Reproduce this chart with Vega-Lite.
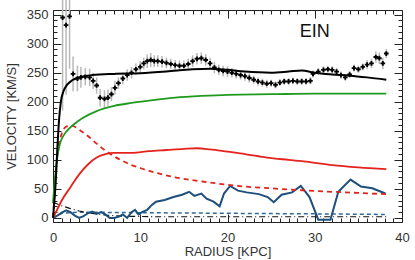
{
  "$schema": "https://vega.github.io/schema/vega-lite/v6.json",
  "width": 349,
  "height": 212,
  "autosize": {"type": "none"},
  "padding": {"left": 53, "top": 10, "right": 13, "bottom": 38},
  "background": "white",
  "config": {
    "view": {"stroke": "#222", "strokeWidth": 1},
    "font": "Liberation Sans",
    "axis": {"grid": false, "domain": false, "tickColor": "#222", "labelFont": "Liberation Sans", "labelFontSize": 13, "labelColor": "#333", "titleFont": "Liberation Sans", "titleFontSize": 13, "titleFontWeight": "normal", "titleColor": "#333"}
  },
  "datasets": {
    "obs": [
      {"r": 1.1, "v": 345, "err": 160}, {"r": 1.5, "v": 332, "err": 120}, {"r": 1.9, "v": 347, "err": 90},
      {"r": 2.3, "v": 248, "err": 30}, {"r": 2.8, "v": 240, "err": 22}, {"r": 3.2, "v": 242, "err": 18},
      {"r": 3.7, "v": 243, "err": 15}, {"r": 4.2, "v": 242, "err": 15}, {"r": 4.6, "v": 236, "err": 14},
      {"r": 5.0, "v": 228, "err": 14}, {"r": 5.4, "v": 207, "err": 15}, {"r": 5.9, "v": 205, "err": 15},
      {"r": 6.3, "v": 207, "err": 14}, {"r": 6.7, "v": 213, "err": 12}, {"r": 7.1, "v": 224, "err": 12},
      {"r": 7.5, "v": 232, "err": 10}, {"r": 8.0, "v": 240, "err": 10}, {"r": 8.5, "v": 246, "err": 10},
      {"r": 9.0, "v": 250, "err": 10}, {"r": 9.5, "v": 256, "err": 10}, {"r": 10.0, "v": 260, "err": 10},
      {"r": 10.4, "v": 266, "err": 10}, {"r": 10.8, "v": 270, "err": 12}, {"r": 11.2, "v": 272, "err": 12},
      {"r": 11.6, "v": 270, "err": 10}, {"r": 12.0, "v": 270, "err": 10}, {"r": 12.5, "v": 269, "err": 10},
      {"r": 13.0, "v": 267, "err": 9}, {"r": 13.5, "v": 265, "err": 9}, {"r": 14.0, "v": 263, "err": 9},
      {"r": 14.5, "v": 262, "err": 9}, {"r": 15.0, "v": 262, "err": 9}, {"r": 15.5, "v": 265, "err": 9},
      {"r": 16.0, "v": 270, "err": 10}, {"r": 16.5, "v": 274, "err": 10}, {"r": 17.0, "v": 275, "err": 10},
      {"r": 17.5, "v": 272, "err": 10}, {"r": 18.0, "v": 266, "err": 10}, {"r": 18.5, "v": 259, "err": 10},
      {"r": 19.0, "v": 255, "err": 9}, {"r": 19.5, "v": 253, "err": 9}, {"r": 20.0, "v": 252, "err": 9},
      {"r": 20.5, "v": 250, "err": 8}, {"r": 21.0, "v": 248, "err": 8}, {"r": 21.5, "v": 246, "err": 8},
      {"r": 22.0, "v": 244, "err": 8}, {"r": 22.5, "v": 241, "err": 8}, {"r": 23.0, "v": 238, "err": 7},
      {"r": 23.5, "v": 235, "err": 7}, {"r": 24.0, "v": 233, "err": 7}, {"r": 24.5, "v": 231, "err": 7},
      {"r": 25.0, "v": 232, "err": 6}, {"r": 25.5, "v": 229, "err": 6}, {"r": 26.0, "v": 233, "err": 6},
      {"r": 26.5, "v": 235, "err": 6}, {"r": 27.0, "v": 235, "err": 6}, {"r": 27.5, "v": 236, "err": 6},
      {"r": 28.0, "v": 235, "err": 6}, {"r": 28.5, "v": 235, "err": 6}, {"r": 29.0, "v": 235, "err": 6},
      {"r": 29.5, "v": 236, "err": 6}, {"r": 29.8, "v": 248, "err": 6}, {"r": 30.4, "v": 252, "err": 6},
      {"r": 31.0, "v": 255, "err": 6}, {"r": 31.5, "v": 256, "err": 6}, {"r": 32.0, "v": 255, "err": 6},
      {"r": 32.5, "v": 252, "err": 6}, {"r": 33.0, "v": 246, "err": 6}, {"r": 33.5, "v": 242, "err": 6},
      {"r": 34.0, "v": 247, "err": 6}, {"r": 34.5, "v": 258, "err": 6}, {"r": 35.0, "v": 256, "err": 6},
      {"r": 35.5, "v": 260, "err": 6}, {"r": 36.0, "v": 264, "err": 8}, {"r": 36.5, "v": 266, "err": 8},
      {"r": 37.0, "v": 277, "err": 10}, {"r": 37.4, "v": 275, "err": 10}, {"r": 37.8, "v": 266, "err": 10},
      {"r": 38.2, "v": 283, "err": 8}
    ],
    "total": [
      {"r": 0, "v": 0}, {"r": 0.3, "v": 60}, {"r": 0.5, "v": 120}, {"r": 0.7, "v": 170}, {"r": 0.9, "v": 200},
      {"r": 1.2, "v": 218}, {"r": 1.6, "v": 229}, {"r": 2.2, "v": 237}, {"r": 3, "v": 242}, {"r": 4.5, "v": 246},
      {"r": 7, "v": 248}, {"r": 10, "v": 249}, {"r": 13, "v": 252}, {"r": 16, "v": 256}, {"r": 18, "v": 257},
      {"r": 20, "v": 255}, {"r": 22, "v": 252}, {"r": 25, "v": 250}, {"r": 27, "v": 252}, {"r": 28.5, "v": 254},
      {"r": 30, "v": 250}, {"r": 32, "v": 247}, {"r": 34, "v": 245}, {"r": 36, "v": 242}, {"r": 38.2, "v": 238}
    ],
    "halo": [
      {"r": 0, "v": 25}, {"r": 0.2, "v": 65}, {"r": 0.45, "v": 100}, {"r": 0.8, "v": 128}, {"r": 1.4, "v": 146},
      {"r": 2.3, "v": 160}, {"r": 3.4, "v": 172}, {"r": 5, "v": 184}, {"r": 7, "v": 193}, {"r": 9, "v": 198},
      {"r": 11, "v": 202}, {"r": 14, "v": 207}, {"r": 17, "v": 210}, {"r": 20, "v": 212}, {"r": 25, "v": 213},
      {"r": 30, "v": 214}, {"r": 38.2, "v": 214}
    ],
    "disk": [
      {"r": 0, "v": 0}, {"r": 0.5, "v": 15}, {"r": 1, "v": 30}, {"r": 2, "v": 53}, {"r": 3, "v": 75},
      {"r": 4, "v": 92}, {"r": 5, "v": 104}, {"r": 6, "v": 110}, {"r": 7, "v": 112}, {"r": 9, "v": 112},
      {"r": 11, "v": 115}, {"r": 13, "v": 117}, {"r": 15, "v": 119}, {"r": 16.5, "v": 120}, {"r": 18, "v": 118},
      {"r": 20, "v": 114}, {"r": 22, "v": 110}, {"r": 24.5, "v": 104}, {"r": 27, "v": 100}, {"r": 29, "v": 97},
      {"r": 32, "v": 91}, {"r": 35, "v": 87}, {"r": 38.2, "v": 84}
    ],
    "bulge": [
      {"r": 0, "v": 0}, {"r": 0.3, "v": 70}, {"r": 0.6, "v": 120}, {"r": 1.0, "v": 145}, {"r": 1.5, "v": 157},
      {"r": 2.0, "v": 159}, {"r": 2.5, "v": 157}, {"r": 3, "v": 152}, {"r": 4, "v": 141}, {"r": 5, "v": 128},
      {"r": 6, "v": 116}, {"r": 7, "v": 106}, {"r": 8, "v": 98}, {"r": 9, "v": 91}, {"r": 10, "v": 86},
      {"r": 11, "v": 81}, {"r": 12, "v": 77}, {"r": 14, "v": 70}, {"r": 16, "v": 65}, {"r": 18, "v": 61},
      {"r": 20, "v": 57}, {"r": 22, "v": 54}, {"r": 25, "v": 51}, {"r": 28, "v": 48}, {"r": 32, "v": 45},
      {"r": 35, "v": 43}, {"r": 38.2, "v": 41}
    ],
    "gas": [
      {"r": 0, "v": 0}, {"r": 0.5, "v": 4}, {"r": 1, "v": 9}, {"r": 1.5, "v": 13}, {"r": 2, "v": 10},
      {"r": 2.5, "v": 4}, {"r": 3, "v": 0}, {"r": 3.5, "v": 3}, {"r": 4, "v": 8}, {"r": 4.5, "v": 11},
      {"r": 5, "v": 7}, {"r": 5.5, "v": 10}, {"r": 6, "v": 6}, {"r": 6.5, "v": 0}, {"r": 7, "v": 0},
      {"r": 7.5, "v": 2}, {"r": 8, "v": 6}, {"r": 8.5, "v": 0}, {"r": 9, "v": 10}, {"r": 9.4, "v": 14},
      {"r": 9.8, "v": 6}, {"r": 10.2, "v": 10}, {"r": 10.8, "v": 14}, {"r": 11.3, "v": 22}, {"r": 11.8, "v": 28},
      {"r": 12.8, "v": 31}, {"r": 13.8, "v": 36}, {"r": 14.8, "v": 40}, {"r": 15.6, "v": 45}, {"r": 16.2, "v": 38},
      {"r": 17, "v": 42}, {"r": 17.6, "v": 33}, {"r": 18.4, "v": 28}, {"r": 19.1, "v": 20}, {"r": 19.6, "v": 42},
      {"r": 20.3, "v": 55}, {"r": 21.2, "v": 47}, {"r": 22.2, "v": 44}, {"r": 23.6, "v": 41}, {"r": 24.6, "v": 36},
      {"r": 25.3, "v": 27}, {"r": 26.2, "v": 40}, {"r": 27.4, "v": 44}, {"r": 28.4, "v": 55}, {"r": 29.4, "v": 36},
      {"r": 30.4, "v": -3}, {"r": 31.8, "v": -3}, {"r": 32.7, "v": 45}, {"r": 34.1, "v": 66}, {"r": 35.3, "v": 54},
      {"r": 36.6, "v": 51}, {"r": 38.1, "v": 42}
    ],
    "dashdot": [
      {"r": 0, "v": 27}, {"r": 0.5, "v": 24}, {"r": 1, "v": 21}, {"r": 2, "v": 16}, {"r": 3, "v": 12},
      {"r": 4, "v": 9}, {"r": 6, "v": 5}, {"r": 8, "v": 3}, {"r": 12, "v": 2}, {"r": 20, "v": 2}, {"r": 38.2, "v": 2}
    ],
    "gasdash": [
      {"r": 0, "v": 0}, {"r": 1, "v": 8}, {"r": 3, "v": 10}, {"r": 10, "v": 9}, {"r": 20, "v": 8},
      {"r": 30, "v": 7}, {"r": 38.2, "v": 6}
    ],
    "label": [{"r": 30, "v": 320, "name": "EIN"}]
  },
  "resolve": {"axis": {"x": "independent", "y": "independent"}},
  "layer": [
    {
      "layer": [
        {
          "data": {"name": "obs"},
          "mark": {"type": "errorbar", "color": "#b8b8b8", "thickness": 1.5},
          "encoding": {
            "x": {"field": "r", "type": "quantitative"},
            "y": {"field": "v", "type": "quantitative"},
            "yError": {"field": "err"}
          }
        },
        {
          "data": {"name": "gasdash"},
          "mark": {"type": "line", "color": "#2f6a9a", "strokeWidth": 1.5, "strokeDash": [4, 3]},
          "encoding": {"x": {"field": "r", "type": "quantitative"}, "y": {"field": "v", "type": "quantitative"}}
        },
        {
          "data": {"name": "dashdot"},
          "mark": {"type": "line", "color": "#111", "strokeWidth": 1.2, "strokeDash": [6, 3, 1, 3]},
          "encoding": {"x": {"field": "r", "type": "quantitative"}, "y": {"field": "v", "type": "quantitative"}}
        },
        {
          "data": {"name": "gas"},
          "mark": {"type": "line", "color": "#1c4f7c", "strokeWidth": 2},
          "encoding": {"x": {"field": "r", "type": "quantitative"}, "y": {"field": "v", "type": "quantitative"}}
        },
        {
          "data": {"name": "bulge"},
          "mark": {"type": "line", "color": "#e4231d", "strokeWidth": 1.8, "strokeDash": [5, 4], "interpolate": "monotone"},
          "encoding": {"x": {"field": "r", "type": "quantitative"}, "y": {"field": "v", "type": "quantitative"}}
        },
        {
          "data": {"name": "disk"},
          "mark": {"type": "line", "color": "#e4231d", "strokeWidth": 1.8, "interpolate": "monotone"},
          "encoding": {"x": {"field": "r", "type": "quantitative"}, "y": {"field": "v", "type": "quantitative"}}
        },
        {
          "data": {"name": "halo"},
          "mark": {"type": "line", "color": "#1f9a1f", "strokeWidth": 1.8, "interpolate": "monotone"},
          "encoding": {"x": {"field": "r", "type": "quantitative"}, "y": {"field": "v", "type": "quantitative"}}
        },
        {
          "data": {"name": "total"},
          "mark": {"type": "line", "color": "#000", "strokeWidth": 2, "interpolate": "monotone"},
          "encoding": {"x": {"field": "r", "type": "quantitative"}, "y": {"field": "v", "type": "quantitative"}}
        },
        {
          "data": {"name": "obs"},
          "mark": {"type": "point", "shape": "cross", "filled": true, "color": "#000", "size": 22, "opacity": 1},
          "encoding": {"x": {"field": "r", "type": "quantitative"}, "y": {"field": "v", "type": "quantitative"}}
        },
        {
          "data": {"name": "label"},
          "mark": {"type": "text", "font": "Liberation Sans", "fontSize": 18, "color": "#111", "align": "center", "baseline": "middle"},
          "encoding": {"x": {"field": "r", "type": "quantitative"}, "y": {"field": "v", "type": "quantitative"}, "text": {"field": "name"}}
        }
      ],
      "encoding": {
        "x": {
          "field": "r", "type": "quantitative",
          "scale": {"domain": [0, 40], "nice": false, "zero": false},
          "axis": {
            "orient": "bottom", "title": "RADIUS [KPC]",
            "values": [0,1,2,3,4,5,6,7,8,9,10,11,12,13,14,15,16,17,18,19,20,21,22,23,24,25,26,27,28,29,30,31,32,33,34,35,36,37,38,39,40],
            "labelExpr": "datum.value % 10 === 0 ? datum.label : ''",
            "tickSize": {"condition": {"test": "datum.value % 10 === 0", "value": -8}, "value": -4},
            "labelPadding": 17, "labelFlush": false,
            "titleY": 29, "titleBaseline": "middle"
          }
        },
        "y": {
          "field": "v", "type": "quantitative",
          "scale": {"domain": [-7, 358], "nice": false, "zero": false},
          "axis": {
            "orient": "left", "title": "VELOCITY [KM/S]",
            "values": [0,10,20,30,40,50,60,70,80,90,100,110,120,130,140,150,160,170,180,190,200,210,220,230,240,250,260,270,280,290,300,310,320,330,340,350],
            "labelExpr": "datum.value % 50 === 0 ? datum.label : ''",
            "tickSize": {"condition": {"test": "datum.value % 50 === 0", "value": -8}, "value": -4},
            "labelPadding": 13,
            "titleX": -42, "titleY": 106, "titleBaseline": "middle", "titleAlign": "center", "titleAngle": -90
          }
        }
      }
    },
    {
      "data": {"name": "label"},
      "mark": {"type": "point", "opacity": 0},
      "encoding": {
        "x": {
          "field": "r", "type": "quantitative",
          "scale": {"domain": [0, 40], "nice": false, "zero": false},
          "axis": {
            "orient": "top", "title": null, "labels": false,
            "values": [0,1,2,3,4,5,6,7,8,9,10,11,12,13,14,15,16,17,18,19,20,21,22,23,24,25,26,27,28,29,30,31,32,33,34,35,36,37,38,39,40],
            "tickSize": {"condition": {"test": "datum.value % 10 === 0", "value": -8}, "value": -4}
          }
        },
        "y": {
          "field": "v", "type": "quantitative",
          "scale": {"domain": [-7, 358], "nice": false, "zero": false},
          "axis": {
            "orient": "right", "title": null, "labels": false,
            "values": [0,10,20,30,40,50,60,70,80,90,100,110,120,130,140,150,160,170,180,190,200,210,220,230,240,250,260,270,280,290,300,310,320,330,340,350],
            "tickSize": {"condition": {"test": "datum.value % 50 === 0", "value": -8}, "value": -4}
          }
        }
      }
    }
  ]
}
